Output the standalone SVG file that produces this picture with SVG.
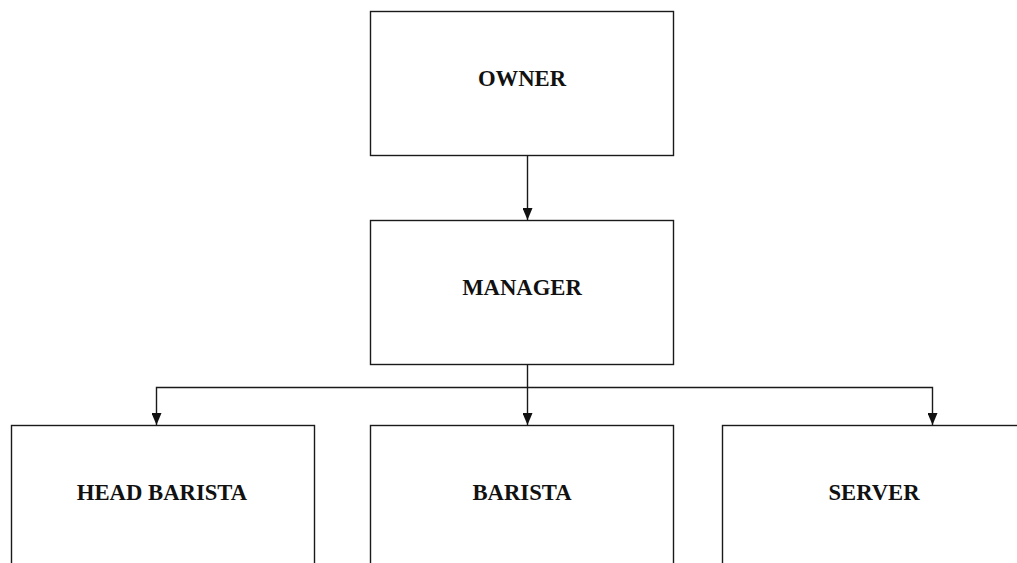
<svg xmlns="http://www.w3.org/2000/svg" width="1017" height="563" viewBox="0 0 1017 563">
<style>
.box{fill:#fff;stroke:#1a1a1a;stroke-width:1.4}
.lbl{font-family:"Liberation Serif","Times New Roman",serif;font-weight:bold;font-size:22.7px;fill:#111;text-anchor:middle}
.con{fill:none;stroke:#1a1a1a;stroke-width:1.4;marker-end:url(#arr)}
</style>
<defs>
<marker id="arr" markerUnits="userSpaceOnUse" markerWidth="12" markerHeight="10" refX="12" refY="5" orient="auto" viewBox="0 0 12 10">
<path d="M0,0 L12,5 L0,10 Z" fill="#111"/>
</marker>
</defs>
<rect width="1017" height="563" fill="#fff"/>
<g id="connectors">
<path class="con" d="M527.5,155.5 V220"/>
<path class="con" d="M527.5,364.5 V425"/>
<path class="con" d="M527.5,387.5 H156.5 V425"/>
<path class="con" d="M527.5,387.5 H932.5 V425"/>
</g>
<g id="owner">
<rect class="box" x="370.5" y="11.5" width="303" height="144"/>
<text class="lbl" x="522" y="86">OWNER</text>
</g>
<g id="manager">
<rect class="box" x="370.5" y="220.5" width="303" height="144"/>
<text class="lbl" x="522" y="295">MANAGER</text>
</g>
<g id="head-barista">
<rect class="box" x="11.5" y="425.5" width="303" height="144"/>
<text class="lbl" x="162" y="500">HEAD BARISTA</text>
</g>
<g id="barista">
<rect class="box" x="370.5" y="425.5" width="303" height="144"/>
<text class="lbl" x="522" y="500">BARISTA</text>
</g>
<g id="server">
<rect class="box" x="722.5" y="425.5" width="303" height="144"/>
<text class="lbl" x="874" y="500">SERVER</text>
</g>
</svg>
